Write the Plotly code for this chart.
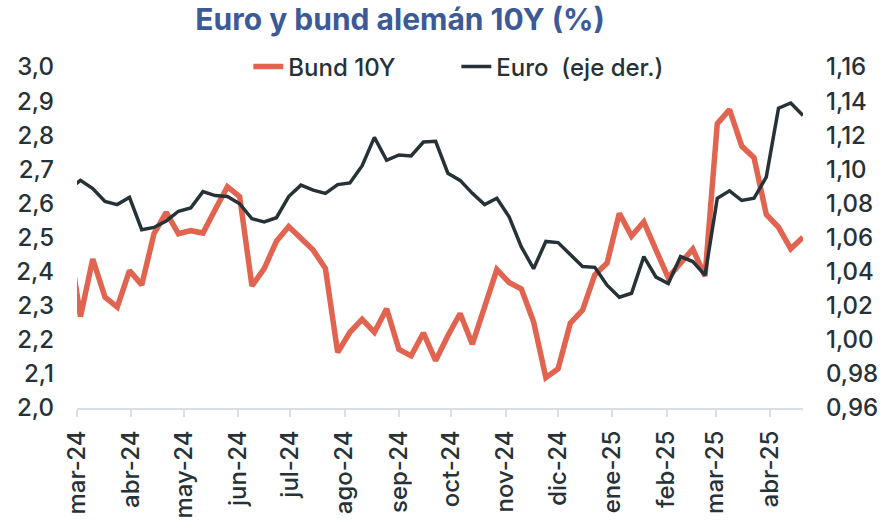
import plotly.graph_objects as go
import pandas as pd

# Weekly dates (first one falls just before the visible axis start and is clipped)
dates = pd.date_range("2024-02-25", periods=61, freq="7D")

bund_10y = [2.50,
    2.268, 2.437, 2.325, 2.296, 2.403, 2.361, 2.511, 2.574, 2.511, 2.520,
    2.513, 2.582, 2.649, 2.620, 2.358, 2.409, 2.489, 2.532, 2.498, 2.463,
    2.409, 2.163, 2.222, 2.260, 2.222, 2.291, 2.172, 2.153, 2.220, 2.139,
    2.212, 2.277, 2.187, 2.296, 2.406, 2.368, 2.349, 2.253, 2.089, 2.115,
    2.249, 2.287, 2.391, 2.425, 2.571, 2.504, 2.546, 2.463, 2.382, 2.425,
    2.466, 2.387, 2.834, 2.875, 2.768, 2.734, 2.568, 2.530, 2.467, 2.501]

euro = [1.088,
    1.0935, 1.0887, 1.0811, 1.0793, 1.0836, 1.0646, 1.0659, 1.0697, 1.0754, 1.0773,
    1.0869, 1.0846, 1.0840, 1.0798, 1.0710, 1.0691, 1.0716, 1.0840, 1.0907, 1.0878,
    1.0859, 1.0910, 1.0920, 1.1021, 1.1187, 1.1053, 1.1084, 1.1078, 1.1160, 1.1164,
    1.0977, 1.0935, 1.0859, 1.0793, 1.0830, 1.0722, 1.0545, 1.0417, 1.0577, 1.0570,
    1.0501, 1.0430, 1.0425, 1.0320, 1.0250, 1.0273, 1.0488, 1.0368, 1.0330, 1.0488,
    1.0459, 1.0379, 1.0830, 1.0874, 1.0817, 1.0830, 1.0954, 1.1358, 1.1389, 1.1316]

tick_dates = pd.date_range("2024-03-01", "2025-04-01", freq="MS")
tick_labels = ["mar-24", "abr-24", "may-24", "jun-24", "jul-24", "ago-24", "sep-24",
               "oct-24", "nov-24", "dic-24", "ene-25", "feb-25", "mar-25", "abr-25"]

TXT = "#263238"
FONT = "Inter"
tickfont = dict(family=FONT, size=24, color=TXT, weight=500)

fig = go.Figure()
fig.add_trace(go.Scatter(x=dates, y=bund_10y, name="Bund 10Y", mode="lines",
                         line=dict(color="#E0644F", width=5.5), yaxis="y"))
fig.add_trace(go.Scatter(x=dates, y=euro, name="Euro  (eje der.)", mode="lines",
                         line=dict(color="#263238", width=3.5), yaxis="y2"))

fig.update_layout(
    width=890, height=531,
    margin=dict(l=77, r=81, t=67, b=114),
    paper_bgcolor="white", plot_bgcolor="white",
    separators=",.",
    font=dict(family=FONT, color=TXT, size=24),
    title=dict(text="<b>Euro y bund alemán 10Y (%)</b>", x=0.4495, xanchor="center",
               y=0.964, yanchor="middle",
               font=dict(family=FONT, size=30, color="#3D5A98")),
    showlegend=True,
    legend=dict(orientation="h", x=0.236, xanchor="left", y=1.0, yanchor="middle",
                font=dict(family=FONT, size=24, color=TXT, weight=500),
                bgcolor="rgba(0,0,0,0)", entrywidth=163, traceorder="normal"),
    xaxis=dict(type="date", range=["2024-03-01", "2025-04-20"],
               tickvals=tick_dates, ticktext=tick_labels, tickangle=-90,
               showgrid=False, zeroline=False,
               showline=True, linecolor="#D9DFE3", linewidth=2,
               ticks="outside", ticklen=7, tickwidth=2, tickcolor="#D9DFE3",
               ticklabelstandoff=4, tickfont=tickfont),
    yaxis=dict(range=[2.0, 3.0], dtick=0.1, tick0=2.0, tickformat=".1f",
               showgrid=False, zeroline=False, showline=False, ticks="",
               ticklabelstandoff=22, tickfont=tickfont),
    yaxis2=dict(range=[0.96, 1.16], dtick=0.02, tick0=0.96, tickformat=".2f",
                overlaying="y", side="right",
                showgrid=False, zeroline=False, showline=False, ticks="",
                ticklabelstandoff=22, tickfont=tickfont),
)

# remove the browser's default 8px body margin so the figure fills the window exactly
fig.write_html("out.html",
               config={"displayModeBar": False},
               post_script="document.body.style.margin='0';document.body.style.overflow='hidden';")
